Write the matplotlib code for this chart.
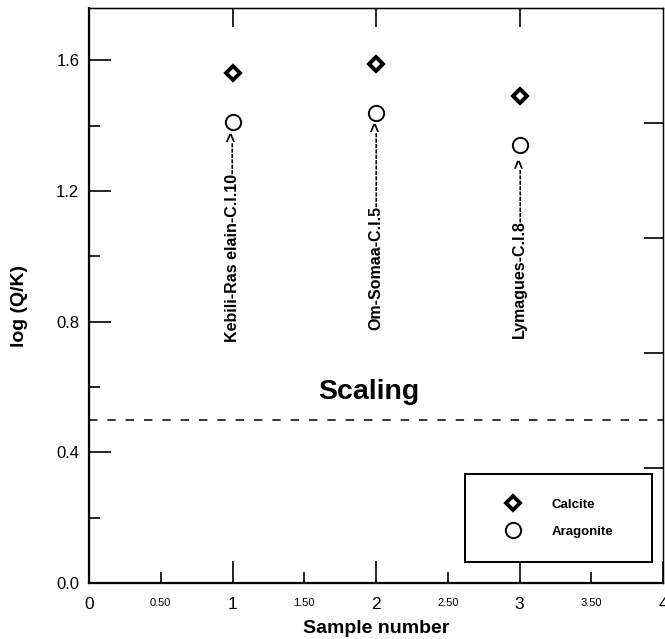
import matplotlib
matplotlib.use("Agg")
import matplotlib.pyplot as plt
from matplotlib.lines import Line2D

plt.rcParams['font.family'] = ['Liberation Sans', 'DejaVu Sans']

# data
samples = [1, 2, 3]
calcite = [1.56, 1.59, 1.49]
aragonite = [1.41, 1.44, 1.34]
site_names = ["Kebili-Ras elain-C.I.10------>",
              "Om-Somaa-C.I.5-------------->",
              "Lymagues-C.I.8---------->"]
scaling_level = 0.5

major_x = [0, 1, 2, 3, 4]
minor_x = [0.5, 1.5, 2.5, 3.5]
minor_x_labels = ["0.50", "1.50", "2.50", "3.50"]
major_y = [0.0, 0.4, 0.8, 1.2, 1.6]
minor_y = [0.2, 0.6, 1.0, 1.4]

fig = plt.figure(figsize=(6.65, 6.39), dpi=100)
ax = fig.add_axes([89 / 665, 56 / 639, 574 / 665, 575 / 639])

ax.set_xlim(0, 4)
ax.set_ylim(0, 1.76)

# points
ax.plot(samples, calcite, ls='none', marker='D', ms=7.3, mfc='white', mec='black', mew=2.8,
        label='Calcite', zorder=4)
ax.plot(samples, aragonite, ls='none', marker='o', ms=11, mfc='white', mec='black', mew=1.4,
        label='Aragonite', zorder=4)

# site labels
label_bottoms = [0.737, 0.774, 0.749]
for x, name, yb in zip(samples, site_names, label_bottoms):
    ax.text(x, yb, name, rotation=90, ha='center', va='bottom', fontsize=11.5, fontweight='bold')

# scaling threshold
ax.axhline(scaling_level, color='black', lw=1.1, ls=(0, (5.5, 6.5)))
ax.text(1.95, 0.545, 'Scaling', ha='center', va='bottom', fontsize=20.5, fontweight='bold')

# ticks
ax.set_xticks(major_x)
ax.set_xticklabels([str(v) for v in major_x], fontsize=12.5)
ax.set_xticks(minor_x, minor=True)
ax.set_xticklabels(minor_x_labels, minor=True, fontsize=8)
ax.set_yticks(major_y)
ax.set_yticklabels([f"{v:.1f}" for v in major_y], fontsize=12)
ax.set_yticks(minor_y, minor=True)
ax.tick_params(which='major', direction='in', length=16, width=1.2, pad=7)
ax.tick_params(which='minor', direction='in', length=8, width=1.2, pad=8)
ax.tick_params(axis='x', which='major', pad=10)
ax.tick_params(axis='x', which='minor', pad=11)

for side in ['left', 'bottom']:
    ax.spines[side].set_linewidth(1.6)
for side in ['top', 'right']:
    ax.spines[side].set_linewidth(0.9)

# top ticks
top = ax.secondary_xaxis('top')
top.set_xticks([1, 2, 3])
top.tick_params(direction='in', length=14, width=1.2, labeltop=False)
top.spines['top'].set_linewidth(0.9)

# right ticks, evenly spaced
right = ax.twinx()
right.set_ylim(0, 1)
right.set_yticks([0.0, 0.2, 0.4, 0.6, 0.8])
right.tick_params(direction='in', length=14, width=1.2, labelright=False)
right.spines['right'].set_linewidth(0.9)

ax.set_xlabel('Sample number', fontsize=14, fontweight='bold', labelpad=6)
ax.set_ylabel('log (Q/K)', fontsize=14, fontweight='bold', labelpad=12)
ax.yaxis.set_label_coords(-0.106, 0.482)

handles = [Line2D([], [], ls='none', marker='D', ms=7.3, mfc='white', mec='black', mew=2.8),
           Line2D([], [], ls='none', marker='o', ms=11, mfc='white', mec='black', mew=1.4)]
leg = ax.legend(handles, ['Calcite', 'Aragonite'], loc='lower left',
                bbox_to_anchor=(0.655, 0.0365, 0.326, 0.155), mode='expand',
                borderaxespad=0, borderpad=1.85, handlelength=3.6, handletextpad=1.1,
                labelspacing=1.1, fancybox=False, framealpha=1, edgecolor='black',
                prop={'size': 9.5, 'weight': 'bold'})
leg.get_frame().set_linewidth(1.4)
leg.set_zorder(5)

fig.savefig('out.png', dpi=100)
